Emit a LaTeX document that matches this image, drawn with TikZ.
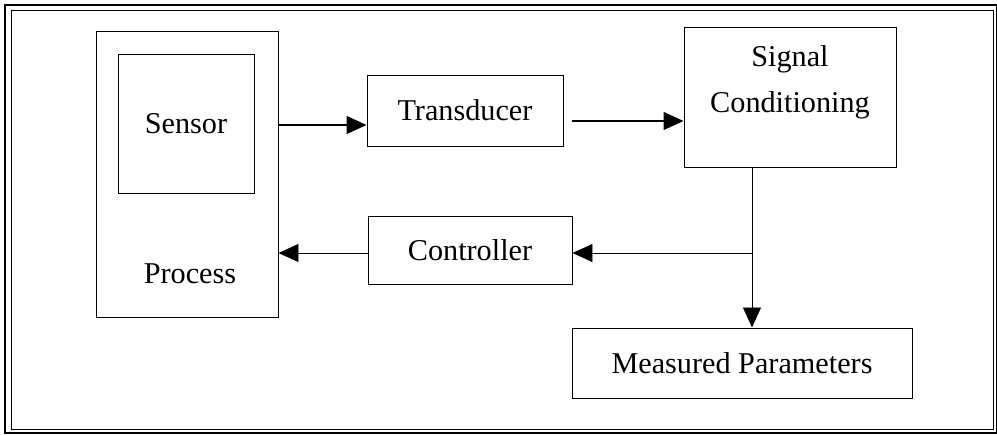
\documentclass[tikz,border=0pt]{standalone}
\usepackage{fontspec}
\setmainfont{Liberation Serif}
\usetikzlibrary{arrows.meta}
\usetikzlibrary{positioning}

\begin{document}
\begin{tikzpicture}[
	block/.style={draw, rectangle, line width=0.7pt, inner sep=0pt},
	>={Triangle[length=0.5cm, width=0.45cm]},
	font=\fontsize{21.5}{33}\selectfont
	]
	
	\useasboundingbox (0, 0) rectangle (24.925, 10.875);
	
	% double frame
	\draw [line width=1.6pt] (0.125, 0.05) rectangle (24.925, 10.75);
	\draw [line width=0.7pt] (0.275, 0.15) rectangle (24.825, 10.625);
	
	\node [block, minimum width=4.55cm, minimum height=7.15cm] at (4.675, 6.525) (process){};
	\node [block, minimum width=3.4cm, minimum height=3.475cm] at (4.65, 7.7875) (sensor){Sensor};
	\node [] at (4.75, 4.025) (process_text){Process};
	
	\node [block, minimum width=4.9cm, minimum height=1.775cm] at (11.625, 8.1125) (transducer){Transducer};
	\node [block, minimum width=5.3cm, minimum height=3.5cm] at (19.75, 8.45) (signal_cond){};
	\node [align=center] at (19.75, 8.825) (signal_text){Signal\\Conditioning};
	
	\node [block, minimum width=5.1cm, minimum height=1.7cm] at (11.75, 4.625) (controller){Controller};
	\node [block, minimum width=8.5cm, minimum height=1.75cm] at (18.55, 1.8) (measured){Measured Parameters};
	
	\coordinate (sensor_out) at (7.0, 7.75);
	\coordinate (trans_out) at (14.3, 7.85);
	\coordinate (junction) at (18.8, 4.55);
	
	\draw [->, line width=0.9pt] (process.east |- sensor_out) -- (transducer.west |- sensor_out);
	\draw [->, line width=0.9pt] (trans_out) -- (signal_cond.west |- trans_out);
	\draw [line width=0.7pt] (signal_cond.south -| junction) -- (junction);
	\draw [->, line width=0.7pt] (junction) -- (measured.north -| junction);
	\draw [->, line width=0.7pt] (junction) -- (controller.east |- junction);
	\draw [->, line width=0.7pt] (controller.west |- junction) -- (process.east |- junction);
	
\end{tikzpicture}
\end{document}
